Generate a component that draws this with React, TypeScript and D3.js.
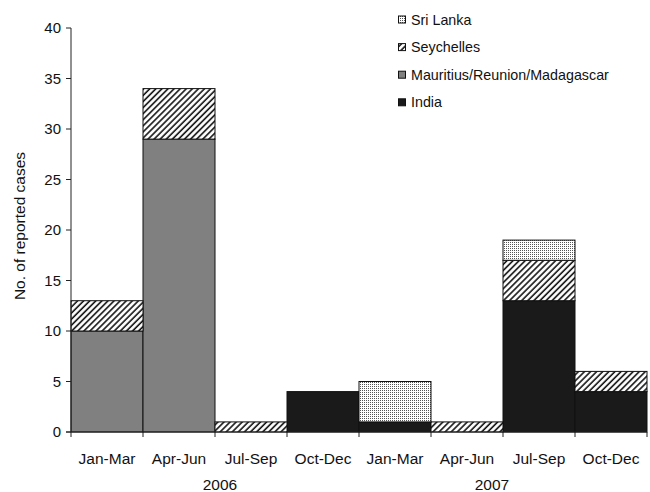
import React from "react";
import * as d3 from "d3";

const quarters = ["Jan-Mar", "Apr-Jun", "Jul-Sep", "Oct-Dec", "Jan-Mar", "Apr-Jun", "Jul-Sep", "Oct-Dec"];
const years = ["2006", "2007"];
const india = [0, 0, 0, 4, 1, 0, 13, 4];
const mauritius = [10, 29, 0, 0, 0, 0, 0, 0];
const seychelles = [3, 5, 1, 0, 0, 1, 4, 2];
const sriLanka = [0, 0, 0, 0, 4, 0, 2, 0];
const yTicks = [0, 5, 10, 15, 20, 25, 30, 35, 40];

const seriesNames = ["India", "Mauritius/Reunion/Madagascar", "Seychelles", "Sri Lanka"];
const seriesFills = ["#1a1a1a", "#808080", "url(#hatch)", "url(#dots)"];
const seriesData = [india, mauritius, seychelles, sriLanka];

const W = 650, H = 492;
const left = 71, right = 647, top = 28, bottom = 432;
const FONT = "'Liberation Sans', Arial, sans-serif";

export default function App() {
  const x = d3.scaleBand<number>().domain(d3.range(quarters.length)).range([left, right]).paddingInner(0).paddingOuter(0);
  const y = d3.scaleLinear().domain([0, 40]).range([bottom, top]);

  const rows = quarters.map((_, i) => {
    const o: any = { i };
    seriesNames.forEach((n, k) => (o[n] = seriesData[k][i]));
    return o;
  });
  const stack = d3.stack<any>().keys(seriesNames)(rows);

  const legendOrder = [3, 2, 1, 0];
  const bw = x.bandwidth();

  return (
    <svg width={W} height={H} style={{ position: "absolute", left: 0, top: 0, background: "#fff" }} fontFamily={FONT}>
      <defs>
        <pattern id="hatch" patternUnits="userSpaceOnUse" width={4.3} height={4.3} patternTransform="rotate(45)">
          <rect width={4.3} height={4.3} fill="#fff" />
          <line x1={1} y1={0} x2={1} y2={4.3} stroke="#111" strokeWidth={1.6} />
        </pattern>
        <pattern id="dots" patternUnits="userSpaceOnUse" width={2} height={2}>
          <rect width={2} height={2} fill="#fff" />
          <rect width={1} height={1} fill="#555" />
        </pattern>
      </defs>

      {stack.map((layer, k) =>
        layer.map((d, i) =>
          d[1] - d[0] > 0 ? (
            <rect
              key={`${k}-${i}`}
              x={x(i)!}
              y={y(d[1])}
              width={bw}
              height={y(d[0]) - y(d[1])}
              fill={seriesFills[k]}
              stroke="#111"
              strokeWidth={1}
            />
          ) : null
        )
      )}

      {/* y axis */}
      <line x1={left} y1={top} x2={left} y2={bottom} stroke="#222" strokeWidth={1} />
      {yTicks.map((t) => (
        <g key={t}>
          <line x1={left - 5} x2={left} y1={y(t)} y2={y(t)} stroke="#222" />
          <text x={left - 10} y={y(t)} dy="0.35em" textAnchor="end" fontSize={15} fill="#111">
            {t}
          </text>
        </g>
      ))}
      {/* x axis */}
      <line x1={left - 5} y1={bottom} x2={right} y2={bottom} stroke="#222" />
      {d3.range(quarters.length + 1).map((i) => {
        const xx = left + i * bw;
        return <line key={i} x1={xx} x2={xx} y1={bottom} y2={bottom + 5} stroke="#222" />;
      })}
      {quarters.map((q, i) => (
        <text key={i} x={x(i)! + bw / 2} y={463.5} textAnchor="middle" fontSize={15.5} fill="#111">
          {q}
        </text>
      ))}
      {years.map((yr, j) => (
        <text key={yr} x={x(j * 4)! + 2 * bw + (j === 0 ? 5 : -11)} y={490} textAnchor="middle" fontSize={15.5} fill="#111">
          {yr}
        </text>
      ))}
      <text transform={`translate(25,${(top + bottom) / 2 - 4}) rotate(-90)`} textAnchor="middle" fontSize={15.5} fill="#111">
        No. of reported cases
      </text>

      {/* legend */}
      {legendOrder.map((k, r) => {
        const ly = 19.5 + r * 27.6;
        return (
          <g key={k}>
            <rect x={398.5} y={ly - 3.5} width={7} height={7} fill={seriesFills[k]} stroke="#111" strokeWidth={1} />
            <text x={411} y={ly} dy="0.35em" fontSize={14.3} fill="#111">
              {seriesNames[k]}
            </text>
          </g>
        );
      })}
    </svg>
  );
}
